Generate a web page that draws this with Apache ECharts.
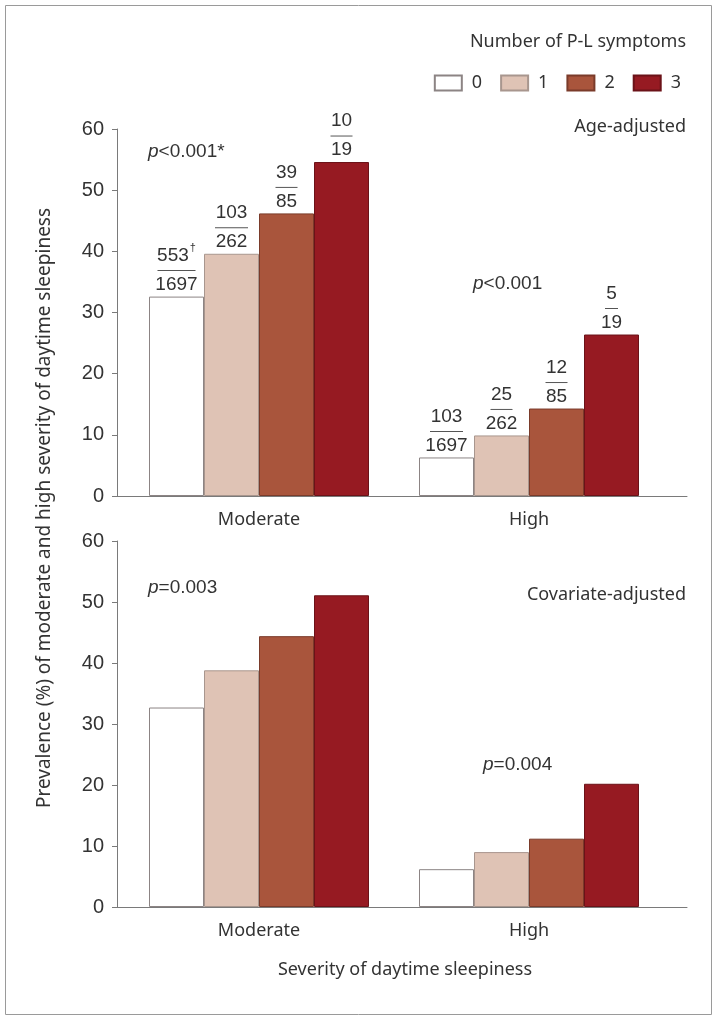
<!DOCTYPE html>
<html><head><meta charset="utf-8">
<script src="https://cdn.jsdelivr.net/npm/echarts@6/dist/echarts.min.js"></script>
<style>html,body{margin:0;padding:0;background:#fff}#c{width:717px;height:1022px}</style>
</head><body><div id="c"></div>
<script>
// ---- data ----
const categories = ['Moderate', 'High'];
const groupNames = ['0', '1', '2', '3'];
// Age-adjusted prevalence (%)
const age0 = [32.6, 6.3];
const age1 = [39.6, 9.9];
const age2 = [46.2, 14.3];
const age3 = [54.6, 26.4];
// Covariate-adjusted prevalence (%)
const cov0 = [32.7, 6.2];
const cov1 = [38.8, 9.0];
const cov2 = [44.4, 11.2];
const cov3 = [51.1, 20.2];
// case counts / totals shown above age-adjusted bars
const cases0 = ['553', '103'];
const cases1 = ['103', '25'];
const cases2 = ['39', '12'];
const cases3 = ['10', '5'];
const totals0 = ['1697', '1697'];
const totals1 = ['262', '262'];
const totals2 = ['85', '85'];
const totals3 = ['19', '19'];
const notes0 = ['\u2020', ''];
const notes1 = ['', ''];
const notes2 = ['', ''];
const notes3 = ['', ''];
const yMin = 0, yMax = 60, yStep = 10;
const pAgeModerate = '<0.001*';
const pAgeHigh = '<0.001';
const pCovModerate = '=0.003';
const pCovHigh = '=0.004';

// ---- styles ----
const fills = ['#ffffff', '#dfc3b5', '#a9553c', '#961a22'];
const borders = ['#8c8484', '#a8968e', '#7a3b2a', '#6b1218'];
const TXT = 'Noto Sans';
const NUM = 'Liberation Sans';
const ageVals = [age0, age1, age2, age3];
const covVals = [cov0, cov1, cov2, cov3];
const casesAll = [cases0, cases1, cases2, cases3];
const totalsAll = [totals0, totals1, totals2, totals3];
const notesAll = [notes0, notes1, notes2, notes3];

const panels = [{top: 129, height: 367}, {top: 541, height: 366}];
const grids = [], xAxes = [], yAxes = [];
panels.forEach(p => {
  grids.push({left: 117, right: 30, top: p.top, height: p.height});
  grids.push({left: 124, width: 540, top: p.top, height: p.height});
});
for (let k = 0; k < 2; k++) {
  const fi = k * 2, bi = k * 2 + 1;
  xAxes.push({gridIndex: fi, type: 'category', data: [''],
    axisLine: {show: true, lineStyle: {color: '#7a7a7a', width: 1}},
    axisTick: {show: false}, axisLabel: {show: false}});
  xAxes.push({gridIndex: bi, type: 'category', data: categories,
    axisLine: {show: false}, axisTick: {show: false},
    axisLabel: {fontFamily: TXT, fontSize: 18, color: '#333', margin: 15}});
  yAxes.push({gridIndex: fi, type: 'value', min: yMin, max: yMax, interval: yStep,
    axisLine: {show: true, lineStyle: {color: '#7a7a7a', width: 1}},
    axisTick: {show: true, length: 5, lineStyle: {color: '#7a7a7a'}},
    splitLine: {show: false},
    axisLabel: {fontFamily: NUM, fontSize: 20, color: '#333', margin: 13}});
  yAxes.push({gridIndex: bi, type: 'value', min: yMin, max: yMax, interval: yStep, show: false,
    splitLine: {show: false}});
}

const lineWidthFor = (s, note) => note ? 38 : ({1: 13, 2: 22, 3: 33, 4: 42})[s.length];

const series = [];
groupNames.forEach((name, i) => {
  series.push({
    name, type: 'bar', xAxisIndex: 1, yAxisIndex: 1,
    data: ageVals[i], barWidth: 55, barGap: '0%',
    itemStyle: {color: fills[i], borderColor: borders[i], borderWidth: 1},
    label: {
      show: true, position: 'top', distance: 0, color: '#333',
      fontFamily: NUM, fontSize: 19,
      formatter: (p) => {
        const n = casesAll[i][p.dataIndex], d = totalsAll[i][p.dataIndex], f = notesAll[i][p.dataIndex];
        const w = lineWidthFor(n, f);
        return '{n|' + n + '}' + (f ? '{s|' + f + '}' : '') + '\n{l' + w + '| }\n{d|' + d + '}';
      },
      rich: {
        n: {fontFamily: NUM, fontSize: 19, color: '#333', lineHeight: 26},
        s: {fontFamily: NUM, fontSize: 11, color: '#333', lineHeight: 26, verticalAlign: 'top', padding: [0, 0, 8, 1]},
        d: {fontFamily: NUM, fontSize: 19, color: '#333', lineHeight: 24},
        l13: {width: 13, height: 1, lineHeight: 4, backgroundColor: '#555', fontSize: 2},
        l22: {width: 22, height: 1, lineHeight: 4, backgroundColor: '#555', fontSize: 2},
        l33: {width: 33, height: 1, lineHeight: 4, backgroundColor: '#555', fontSize: 2},
        l38: {width: 38, height: 1, lineHeight: 4, backgroundColor: '#555', fontSize: 2},
        l42: {width: 42, height: 1, lineHeight: 4, backgroundColor: '#555', fontSize: 2}
      }
    }
  });
});
groupNames.forEach((name, i) => {
  series.push({
    name, type: 'bar', xAxisIndex: 3, yAxisIndex: 3,
    data: covVals[i], barWidth: 55, barGap: '0%',
    itemStyle: {color: fills[i], borderColor: borders[i], borderWidth: 1}
  });
});

const ptext = (x, y, rest) => ({
  type: 'text', x, y,
  style: {text: '{i|p}{r|' + rest + '}', textVerticalAlign: 'middle',
    rich: {i: {fontFamily: NUM, fontStyle: 'italic', fontSize: 19, fill: '#333'},
           r: {fontFamily: NUM, fontSize: 19, fill: '#333'}}}
});

const option = {
  animation: false,
  backgroundColor: '#fff',
  grid: grids, xAxis: xAxes, yAxis: yAxes, series,
  legend: {
    data: groupNames, right: 31, top: 69, itemWidth: 27, itemHeight: 15, itemGap: 18,
    icon: 'rect', selectedMode: false,
    textStyle: {fontFamily: TXT, fontSize: 18, color: '#333', padding: [0, 0, 0, 5]}
  },
  graphic: [
    {type: 'rect', shape: {x: 5.5, y: 5.5, width: 706, height: 1009},
     style: {fill: 'none', stroke: '#9a9a9a', lineWidth: 1}},
    {type: 'text', x: 686, y: 42, style: {text: 'Number of P-L symptoms', textAlign: 'right', textVerticalAlign: 'middle',
      fontFamily: TXT, fontSize: 18, fill: '#333'}},
    {type: 'text', x: 686, y: 127, style: {text: 'Age-adjusted', textAlign: 'right', textVerticalAlign: 'middle',
      fontFamily: TXT, fontSize: 18, fill: '#333'}},
    {type: 'text', x: 686, y: 595, style: {text: 'Covariate-adjusted', textAlign: 'right', textVerticalAlign: 'middle',
      fontFamily: TXT, fontSize: 18, fill: '#333'}},
    ptext(148, 152, pAgeModerate),
    ptext(473, 284, pAgeHigh),
    ptext(148, 588, pCovModerate),
    ptext(483, 765, pCovHigh),
    {type: 'text', x: 405, y: 970, style: {text: 'Severity of daytime sleepiness', textAlign: 'center', textVerticalAlign: 'middle',
      fontFamily: TXT, fontSize: 18, fill: '#333'}},
    {type: 'text', x: 45, y: 508, rotation: Math.PI / 2,
     style: {text: 'Prevalence (%) of moderate and high severity of daytime sleepiness', textAlign: 'center', textVerticalAlign: 'middle',
      fontFamily: TXT, fontSize: 19, fill: '#333'}}
  ]
};
const chart = echarts.init(document.getElementById('c'), null, {renderer: 'canvas'});
chart.setOption(option);
</script></body></html>
